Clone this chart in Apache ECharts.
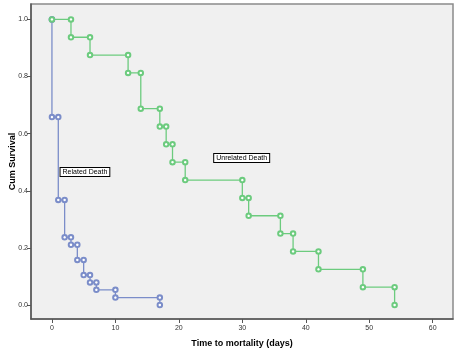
<!DOCTYPE html>
<html>
<head>
<meta charset="utf-8">
<script src="https://cdn.jsdelivr.net/npm/echarts@6/dist/echarts.min.js"></script>
<style>
  html, body { margin: 0; padding: 0; background: #fff; }
  #chart { width: 459px; height: 352px; }
</style>
</head>
<body>
<div id="chart"></div>
<script>
// Kaplan-Meier steps: event times (days) and survival right after each event
var relatedTimes = [0, 1, 2, 3, 4, 5, 6, 7, 10, 17];
var relatedSurv = [0.658, 0.368, 0.237, 0.211, 0.158, 0.105, 0.079, 0.053, 0.026, 0.0];

var unrelatedTimes = [3, 6, 12, 14, 17, 18, 19, 21, 30, 31, 36, 38, 42, 49, 54];
var unrelatedSurv = [0.9375, 0.875, 0.8125, 0.6875, 0.625, 0.5625, 0.5, 0.4375,
    0.375, 0.3125, 0.25, 0.1875, 0.125, 0.0625, 0.0];

var xTicks = [0, 10, 20, 30, 40, 50, 60];
var yTicks = [0, 0.2, 0.4, 0.6, 0.8, 1.0];

// curve label anchors [day, survival]
var relatedLabelAt = [5.2, 0.466];
var unrelatedLabelAt = [29.9, 0.515];

function steps(times, surv) {
    var pts = [[0, 1]];
    var prev = 1;
    times.forEach(function (t, i) {
        pts.push([t, prev]);
        pts.push([t, surv[i]]);
        prev = surv[i];
    });
    return pts;
}

var chart = echarts.init(document.getElementById('chart'));

var labelBox = {
    show: true,
    position: 'inside',
    color: '#000',
    fontSize: 7,
    fontFamily: 'Liberation Sans, Arial',
    backgroundColor: '#fff',
    borderColor: '#000',
    borderWidth: 1,
    padding: [1, 2, 0, 2]
};

chart.setOption({
    animation: false,
    grid: {
        left: 31, right: 6, top: 4, bottom: 33,
        outerBoundsMode: 'none',
        containLabel: false,
        show: true,
        backgroundColor: '#f0f0f0',
        borderColor: '#8a8a8a',
        borderWidth: 1.5
    },
    xAxis: {
        type: 'value',
        min: -3.3,
        max: 63.2,
        name: 'Time to mortality (days)',
        nameLocation: 'middle',
        nameGap: 20,
        nameMoveOverlap: false,
        nameTextStyle: { fontSize: 9, fontWeight: 'bold', color: '#000', fontFamily: 'Liberation Sans, Arial' },
        splitLine: { show: false },
        axisLine: { show: true, onZero: false, lineStyle: { color: '#555', width: 1.5 } },
        axisTick: { show: true, length: 4, customValues: xTicks, lineStyle: { color: '#555' } },
        axisLabel: { customValues: xTicks, fontSize: 7, color: '#333', margin: 6, fontFamily: 'Liberation Sans, Arial' }
    },
    yAxis: {
        type: 'value',
        min: -0.049,
        max: 1.054,
        name: 'Cum Survival',
        nameLocation: 'middle',
        nameGap: 14,
        nameMoveOverlap: false,
        nameTextStyle: { fontSize: 9, fontWeight: 'bold', color: '#000', fontFamily: 'Liberation Sans, Arial' },
        splitLine: { show: false },
        axisLine: { show: true, onZero: false, lineStyle: { color: '#555', width: 1.5 } },
        axisTick: { show: true, length: 4, customValues: yTicks, lineStyle: { color: '#555' } },
        axisLabel: {
            customValues: yTicks, fontSize: 7, color: '#333', margin: 3,
            fontFamily: 'Liberation Sans, Arial',
            formatter: function (v) { return v.toFixed(1); }
        }
    },
    series: [
        {
            name: 'Related Death',
            type: 'line',
            data: steps(relatedTimes, relatedSurv),
            color: '#7b8dc9',
            markPoint: {
                symbol: 'rect', symbolSize: 0,
                data: [{ coord: relatedLabelAt, value: 'Related Death' }],
                label: Object.assign({ formatter: 'Related Death' }, labelBox)
            }
        },
        {
            name: 'Unrelated Death',
            type: 'line',
            data: steps(unrelatedTimes, unrelatedSurv),
            color: '#6ccb7e',
            markPoint: {
                symbol: 'rect', symbolSize: 0,
                data: [{ coord: unrelatedLabelAt, value: 'Unrelated Death' }],
                label: Object.assign({ formatter: 'Unrelated Death' }, labelBox)
            }
        }
    ].map(function (s) {
        return Object.assign(s, {
            symbol: 'emptyCircle',
            symbolSize: 4.5,
            showAllSymbol: true,
            lineStyle: { width: 1.3 },
            itemStyle: { borderWidth: 1 }
        });
    })
});
</script>
</body>
</html>
